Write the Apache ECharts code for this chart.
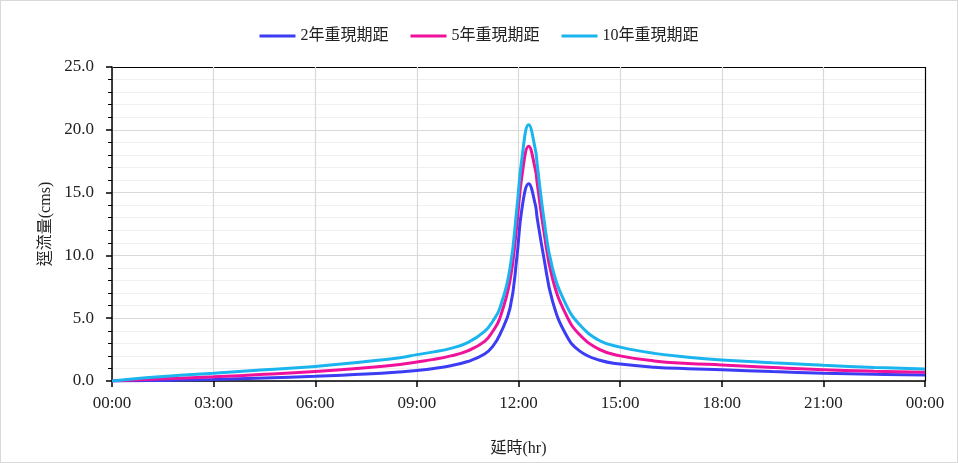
<!DOCTYPE html>
<html>
<head>
<meta charset="utf-8">
<script src="https://cdn.jsdelivr.net/npm/echarts@6/dist/echarts.min.js"></script>
<style>
  html, body { margin: 0; padding: 0; background: #fff; }
  #myChart { width: 956px; height: 461px; border: 1px solid #d9d9d9; }
</style>
</head>
<body>
<div id="myChart"></div>
<script>
// 延時 (hr)
var hours = [0, 1, 2, 3, 4.5, 6, 7.5, 8.5, 9, 9.5, 10, 10.5, 11, 11.25, 11.45, 11.75, 11.95, 12.1, 12.3, 12.5, 12.55, 12.75, 13, 13.4, 13.8, 14.4, 15, 16, 17, 18, 19.5, 21, 22.5, 24];
// 逕流量 (cms)
var q2 = [0, 0.03, 0.07, 0.12, 0.24, 0.37, 0.55, 0.72, 0.84, 1.0, 1.22, 1.55, 2.15, 2.8, 3.7, 5.8, 9.8, 13.7, 15.7, 14.0, 13.0, 9.8, 6.4, 3.7, 2.4, 1.65, 1.35, 1.1, 0.98, 0.9, 0.75, 0.62, 0.53, 0.47];
var q5 = [0, 0.12, 0.22, 0.33, 0.53, 0.75, 1.05, 1.32, 1.52, 1.72, 2.0, 2.4, 3.15, 4.0, 5.0, 8.0, 12.4, 16.3, 18.7, 16.8, 15.8, 11.9, 8.2, 5.3, 3.7, 2.5, 2.0, 1.6, 1.4, 1.28, 1.08, 0.9, 0.78, 0.7];
var q10 = [0, 0.25, 0.45, 0.62, 0.9, 1.16, 1.55, 1.85, 2.1, 2.32, 2.6, 3.05, 3.95, 4.8, 5.8, 9.0, 13.7, 17.7, 20.4, 18.4, 17.3, 12.9, 9.0, 6.1, 4.5, 3.2, 2.7, 2.2, 1.9, 1.68, 1.45, 1.25, 1.08, 0.95];
var legendNames = ["2年重現期距", "5年重現期距", "10年重現期距"];
var colors = ["#3c3cf5", "#f0119b", "#1ab4ee"];

function pairs(ys) {
  var out = [];
  for (var i = 0; i < hours.length; i++) out.push([hours[i], ys[i]]);
  return out;
}

var font = "'Liberation Serif', 'Noto Sans CJK TC', serif";
var seriesArr = [q2, q5, q10].map(function (ys, i) {
  return {
    name: legendNames[i],
    type: "line",
    smooth: 0.45,
    showSymbol: false,
    lineStyle: { width: 3, color: colors[i] },
    itemStyle: { color: colors[i] },
    data: pairs(ys)
  };
});

var g = "#d9d9d9";
var myChart = echarts.init(document.getElementById("myChart"));
myChart.setOption({
  animation: false,
  textStyle: { fontFamily: font },
  legend: {
    top: 22,
    left: "center",
    itemWidth: 36,
    itemHeight: 3,
    itemGap: 22,
    icon: "rect",
    textStyle: { fontFamily: font, fontSize: 16, color: "#222", letterSpacing: 3 },
    data: legendNames
  },
  grid: {
    left: 111,
    right: 32,
    top: 66,
    bottom: 78,
    containLabel: false
  },
  xAxis: {
    type: "value",
    min: 0,
    max: 24,
    interval: 3,
    name: "延時(hr)",
    nameLocation: "middle",
    nameGap: 60,
    nameTextStyle: { fontFamily: font, fontSize: 16, color: "#222" },
    axisLine: { lineStyle: { color: "#000", width: 1.5 } },
    axisTick: { show: true, length: 6, lineStyle: { color: "#000", width: 1.5 } },
    axisLabel: {
      margin: 14,
      fontSize: 17,
      color: "#222",
      fontFamily: font,
      formatter: function (v) {
        var h = v % 24;
        return (h < 10 ? "0" : "") + h + ":00";
      }
    },
    splitLine: { show: true, lineStyle: { color: [g, g, g, g, g, g, g, g, "#000"], width: 1.2 } }
  },
  yAxis: {
    type: "value",
    min: 0,
    max: 25,
    interval: 5,
    name: "逕流量(cms)",
    nameLocation: "middle",
    nameRotate: 90,
    nameGap: 58,
    nameTextStyle: { fontFamily: font, fontSize: 16, color: "#222" },
    axisLine: { show: true, lineStyle: { color: "#000", width: 1.5 } },
    axisTick: { show: true, length: 6, lineStyle: { color: "#000", width: 1.5 } },
    minorTick: { show: true, splitNumber: 5, length: 4, lineStyle: { color: "#000", width: 1 } },
    axisLabel: {
      margin: 18,
      fontSize: 17,
      color: "#222",
      fontFamily: font,
      formatter: function (v) { return v.toFixed(1); }
    },
    splitLine: { show: true, lineStyle: { color: [g, g, g, g, g, "#000"], width: 1.2 } },
    minorSplitLine: { show: true, lineStyle: { color: "#f0f0f0", width: 1 } }
  },
  series: seriesArr
});
</script>
</body>
</html>
